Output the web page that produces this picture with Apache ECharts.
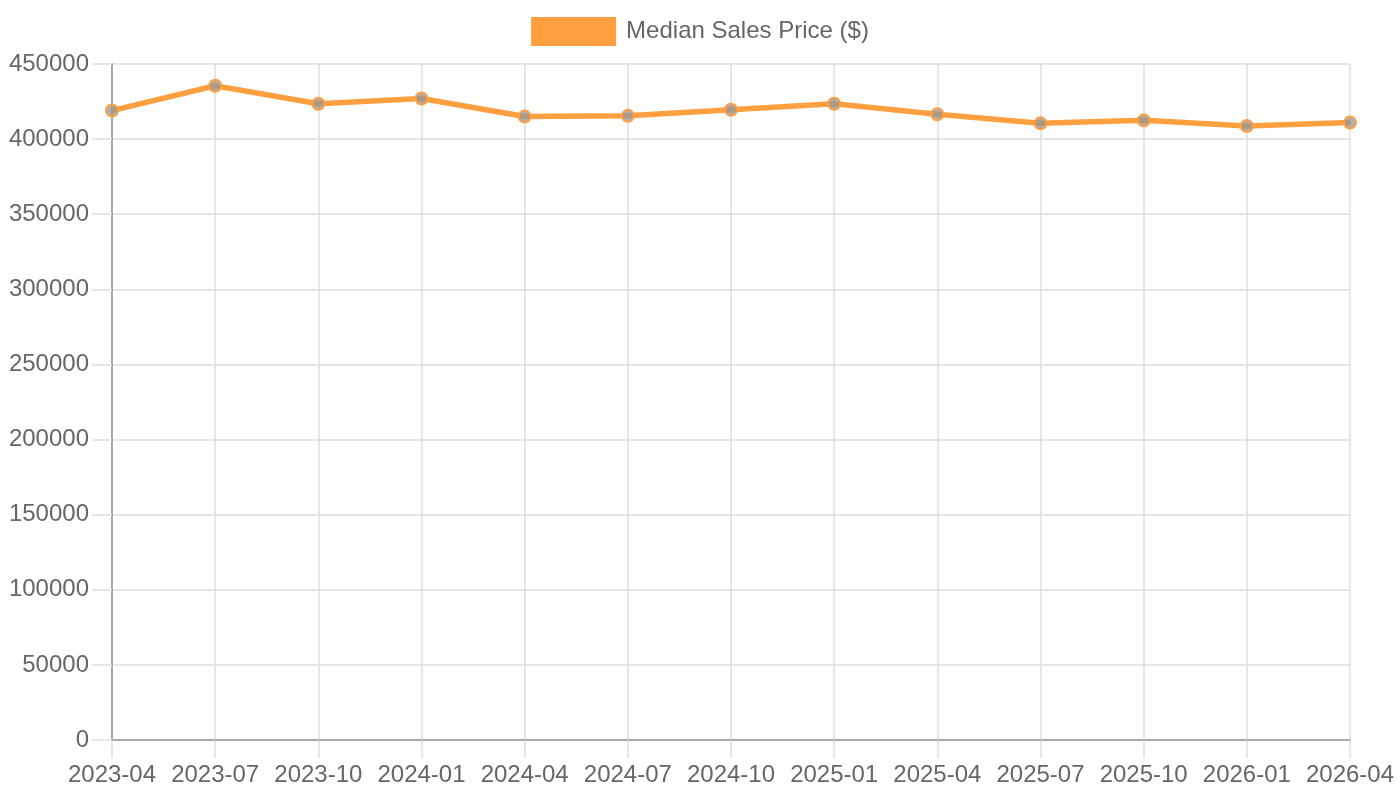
<!DOCTYPE html>
<html>
<head>
<meta charset="utf-8">
<script src="https://cdn.jsdelivr.net/npm/echarts@6/dist/echarts.min.js"></script>
<style>
  html, body { margin: 0; padding: 0; background: #fff; }
  #chart { width: 1400px; height: 800px; }
</style>
</head>
<body>
<div id="chart"></div>
<script>
var months = ['2023-04', '2023-07', '2023-10', '2024-01', '2024-04', '2024-07', '2024-10',
              '2025-01', '2025-04', '2025-07', '2025-10', '2026-01', '2026-04'];
var medianPrice = [419000, 435500, 423500, 427000, 415000, 415500, 419500,
                   423500, 416500, 410500, 412500, 408700, 411000];
var seriesName = 'Median Sales Price ($)';

var chart = echarts.init(document.getElementById('chart'));
var font = '"Liberation Sans", Arial, sans-serif';
var gridColor = '#dedede';
var axisColor = '#a8a8a8';

chart.setOption({
  animation: false,
  textStyle: { fontFamily: font },
  legend: {
    top: 17,
    left: 'center',
    padding: 0,
    itemWidth: 85,
    itemHeight: 29,
    itemGap: 10,
    icon: 'rect',
    textStyle: { fontSize: 24, color: '#666', fontFamily: font, padding: [4, 0, 0, 5] },
    data: [{ name: seriesName, itemStyle: { color: '#ff9f40', borderWidth: 0 } }]
  },
  grid: { left: 112, right: 50, top: 64, bottom: 60, containLabel: false },
  xAxis: {
    type: 'category',
    boundaryGap: false,
    data: months,
    axisLine: { lineStyle: { color: axisColor, width: 2 } },
    axisTick: { show: true, length: 18, lineStyle: { color: gridColor, width: 1.5 } },
    axisLabel: { color: '#666', fontSize: 24, margin: 23, fontFamily: font, interval: 0 },
    splitLine: { show: true, lineStyle: { color: gridColor, width: 1.5 } }
  },
  yAxis: {
    type: 'value',
    min: 0,
    max: 450000,
    interval: 50000,
    axisLine: { show: true, lineStyle: { color: axisColor, width: 2 } },
    axisTick: { show: true, length: 20, lineStyle: { color: gridColor, width: 1.5 } },
    axisLabel: {
      color: '#666', fontSize: 24, margin: 23, fontFamily: font,
      formatter: function (v) { return String(v); }
    },
    splitLine: { show: true, lineStyle: { color: gridColor, width: 1.5 } }
  },
  series: [{
    name: seriesName,
    type: 'line',
    data: medianPrice,
    symbol: 'circle',
    symbolSize: 12,
    lineStyle: { color: '#ff9f40', width: 5.5 },
    itemStyle: { color: 'rgba(150,150,150,0.75)', borderColor: '#ff9f40', borderWidth: 2 }
  }]
});
</script>
</body>
</html>
